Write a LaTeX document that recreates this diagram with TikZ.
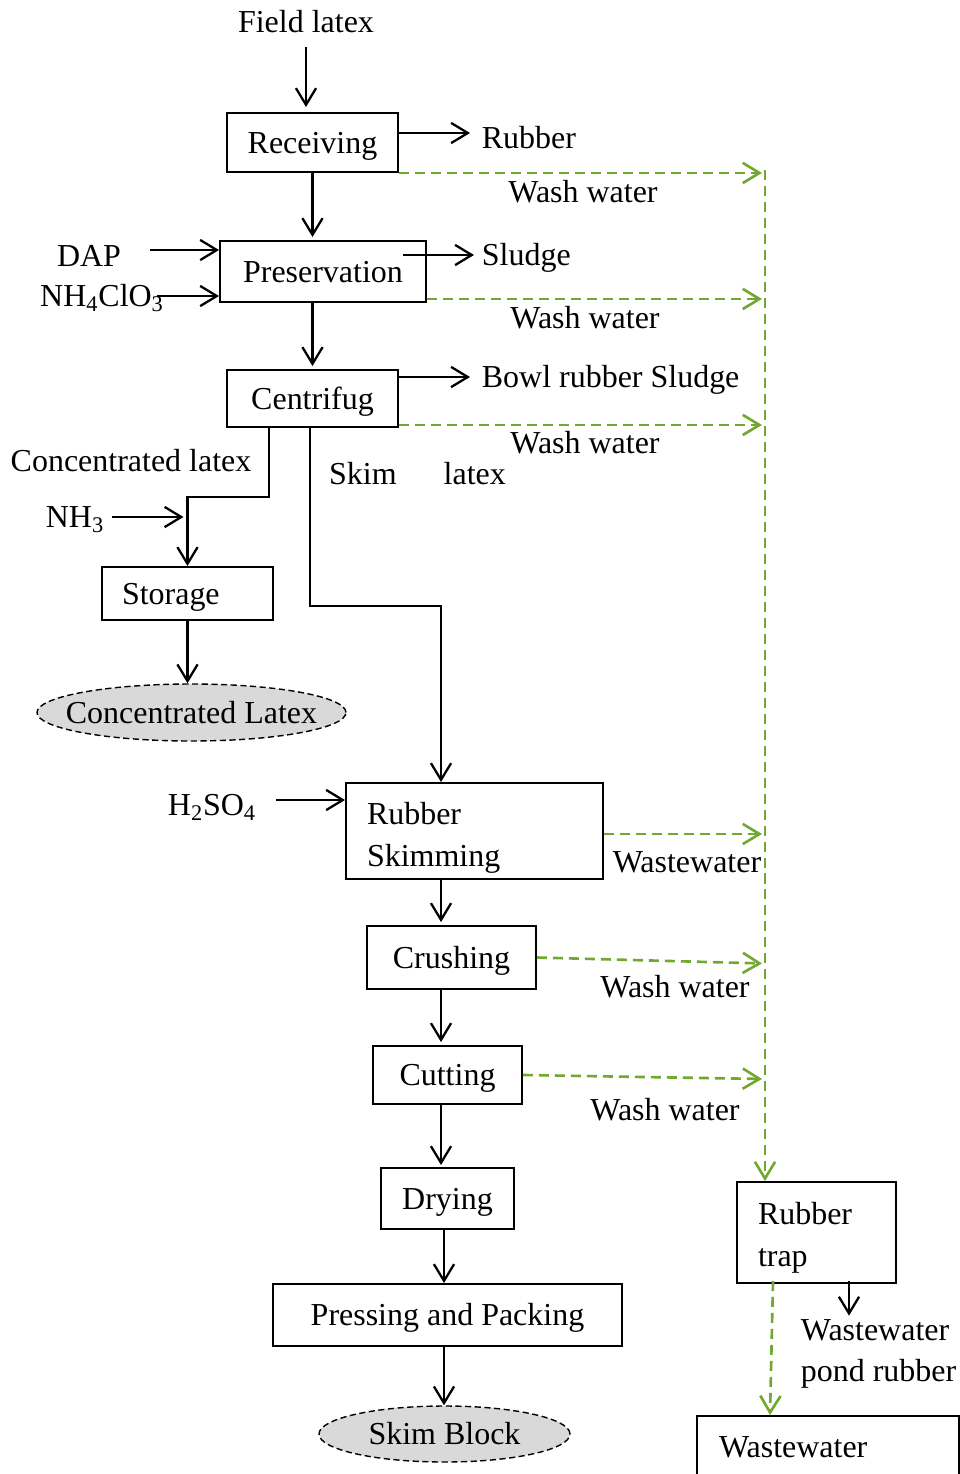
\documentclass[tikz,border=0pt]{standalone}
\usepackage{fontspec}
\setmainfont{Liberation Serif}
\usetikzlibrary{arrows.meta, positioning, calc, shapes.geometric}
\definecolor{washC}{RGB}{112,168,48}
\def\px{0.02cm}
\tikzset{
  box/.style    = {draw, line width=1.1pt, inner sep=0pt, align=center},
  sbox/.style   = {box, text height=12pt, text depth=0pt},
  ovalbox/.style= {ellipse, draw, dash pattern=on 3.5pt off 2pt, fill=black!15,
                   line width=0.8pt, inner sep=0pt, text height=12pt,
                   text depth=0pt},
  lbltwo/.style = {inner sep=2pt, align=left},
  lbl/.style    = {lbltwo, text height=12pt, text depth=0pt},
  arr/.style    = {-{Straight Barb[length=9.5pt, width=11.5pt]}, line width=1.3pt},
  wash/.style   = {arr, color=washC, dash pattern=on 5.7pt off 3.4pt,
                   line width=1.5pt, shorten >=0.06cm},
}

\begin{document}
\begin{tikzpicture}[x=\px, y=-\px, font=\fontsize{18.2}{23.5}\selectfont]
\useasboundingbox (0,0) rectangle (960,1474);

% ============================================================
%  Upper part: receiving, preservation, centrifuge
% ============================================================

\node[lbl] (field) at (306,22) {Field latex};
\node[sbox, minimum width={171*\px}, minimum height={59*\px}]
  (rec) at (312.5,142.5) {Receiving};
\node[sbox, minimum width={206*\px}, minimum height={61*\px}]
  (pres) at (323,271.5) {Preservation};
\node[sbox, minimum width={171*\px}, minimum height={57*\px}]
  (cent) at (312.5,398.5) {Centrifug};

% inputs on the left
\node[lbl] (dap)   at (89,256)  {DAP};
\node[lbl] (nhclo) at (102,296) {NH\textsubscript{4}ClO\textsubscript{3}};

% outputs on the right
\node[lbl, anchor=west] (rubber) at (478,138) {Rubber};
\node[lbl, anchor=west] (sludge) at (478,255) {Sludge};
\node[lbl, anchor=west] (bowl)   at (478,377) {Bowl rubber Sludge};
\node[lbl] (ww1) at (583,192) {Wash water};
\node[lbl] (ww2) at (585,318) {Wash water};
\node[lbl] (ww3) at (585,443) {Wash water};

\draw[arr] ([yshift=-0.22cm]field.south) -- ([yshift=0.1cm]field.south |- rec.north);
\draw[arr] (rec.south) -- ([yshift=0.06cm]rec.south |- pres.north);
\draw[arr] (cent.north |- pres.south) -- ([yshift=0.06cm]cent.north);

\draw[arr] ([xshift=0.5cm, yshift=0.12cm]dap.east)
  -- ([yshift=0.12cm]dap.east -| pres.west);
\draw[arr] ([xshift=-0.22cm]nhclo.east) -- (nhclo.east -| pres.west);

\draw[arr] ([yshift=0.1cm]rubber.west -| rec.east)
  -- ([yshift=0.1cm, xshift=-0.16cm]rubber.west);
\draw[arr] ([xshift=-0.48cm]sludge.west -| pres.east)
  -- ([xshift=-0.08cm]sludge.west);
\draw[arr] (bowl.west -| cent.east) -- ([xshift=-0.16cm]bowl.west);

% ============================================================
%  Concentrated latex branch
% ============================================================

\node[lbl] (conc) at (131,461) {Concentrated latex};
\node[lbl] (nh3)  at (75,517)  {NH\textsubscript{3}};
\node[sbox, minimum width={171*\px}, minimum height={53*\px},
      text width={131*\px}, align=left]
  (stor) at (187.5,593.5) {Storage};
\node[ovalbox, minimum width={309*\px}, minimum height={57*\px}]
  (ell1) at (191.5,712.5) {\makebox[0pt]{Concentrated Latex}};

\draw[arr] ([xshift=0.86cm]cent.south west) -- ++(0,69) -| (stor.north);
\draw[arr] ([xshift=0.08cm]nh3.east)
  -- ([xshift=-0.08cm]nh3.east -| stor.north);
\draw[arr] (stor.south) -- (stor.south |- ell1.north);

% ============================================================
%  Skim latex line
% ============================================================

\node[lbl] (skim)  at (417.5,474) {Skim\hspace{0.94cm}latex};
\node[lbl] (h2so4) at (212,805)   {H\textsubscript{2}SO\textsubscript{4}};
\node[box, minimum width={257*\px}, minimum height={96*\px},
      text width={215*\px}, align=left]
  (skimbox) at (474.5,831) {\rule{0pt}{20.5pt}Rubber\\Skimming};
\node[sbox, minimum width={169*\px}, minimum height={63*\px}]
  (crush) at (451.5,957.5) {Crushing};
\node[sbox, minimum width={149*\px}, minimum height={58*\px}]
  (cut) at (447.5,1075) {Cutting};
\node[sbox, minimum width={133*\px}, minimum height={61*\px}]
  (dry) at (447.5,1198.5) {Drying};
\node[sbox, minimum width={349*\px}, minimum height={62*\px}]
  (press) at (447.5,1315) {Pressing and Packing};
\node[ovalbox, minimum width={251*\px}, minimum height={56*\px}]
  (ell2) at (444.5,1434) {\makebox[0pt]{Skim Block}};

\node[lbl] (wastew1) at (687,862)  {Wastewater};
\node[lbl] (ww4)     at (675,987)  {Wash water};
\node[lbl] (ww5)     at (665,1110) {Wash water};

\draw[arr] ([xshift=-0.05cm]cent.south) -- ++(0,178)
  -| ([xshift=-0.67cm]skimbox.north);
\draw[arr] ([xshift=0.32cm, yshift=0.1cm]h2so4.east)
  -- ([yshift=0.1cm]h2so4.east -| skimbox.west);
\draw[arr] ([xshift=-0.67cm]skimbox.south)
  -- ([xshift=-0.67cm, yshift=0.06cm]skimbox.south |- crush.north);
\draw[arr] ([xshift=-0.13cm]cut.north |- crush.south)
  -- ([xshift=-0.13cm, yshift=0.06cm]cut.north);
\draw[arr] ([xshift=-0.13cm]cut.south)
  -- ([xshift=-0.13cm, yshift=0.04cm]cut.south |- dry.north);
\draw[arr] ([xshift=-0.07cm]dry.south)
  -- ([xshift=-0.07cm]dry.south |- press.north);
\draw[arr] ([xshift=-0.07cm]press.south)
  -- ([xshift=-0.07cm]press.south |- ell2.north);

% ============================================================
%  Wash water collection and rubber trap
% ============================================================

\coordinate (wtop) at (765,170);

\node[box, minimum width={159*\px}, minimum height={101*\px},
      text width={117*\px}, align=left]
  (trap) at (816.5,1232.5) {\rule{0pt}{18.6pt}Rubber\\trap};
\node[lbltwo, anchor=west] (pond) at (797,1354) {Wastewater\\pond rubber};
\node[sbox, minimum width={262*\px}, minimum height={62*\px},
      text width={218*\px}, align=left]
  (wwbox) at (828,1447) {Wastewater};

\draw[wash] (rec.south east) -- (rec.south east -| wtop);
\draw[wash] ([yshift=0.08cm]pres.south east)
  -- ([yshift=0.08cm]pres.south east -| wtop);
\draw[wash] ([yshift=0.06cm]cent.south east)
  -- ([yshift=0.06cm]cent.south east -| wtop);
\draw[wash] ([yshift=-0.06cm]skimbox.east)
  -- ([yshift=-0.06cm]skimbox.east -| wtop);
\draw[wash] (crush.east) -- ([yshift=-0.12cm]crush.east -| wtop);
\draw[wash] (cut.east) -- ([yshift=-0.08cm]cut.east -| wtop);

\draw[wash, shorten >=0pt] (wtop) -- (wtop |- trap.north);

\draw[arr] ([xshift=0.65cm, yshift=0.06cm]trap.south)
  -- ([xshift=0.65cm]trap.south |- pond.north);
\draw[wash, shorten >=0pt] ([xshift=-0.87cm, yshift=0.06cm]trap.south)
  -- ([xshift=-0.93cm]trap.south |- wwbox.north);

\end{tikzpicture}
\end{document}
